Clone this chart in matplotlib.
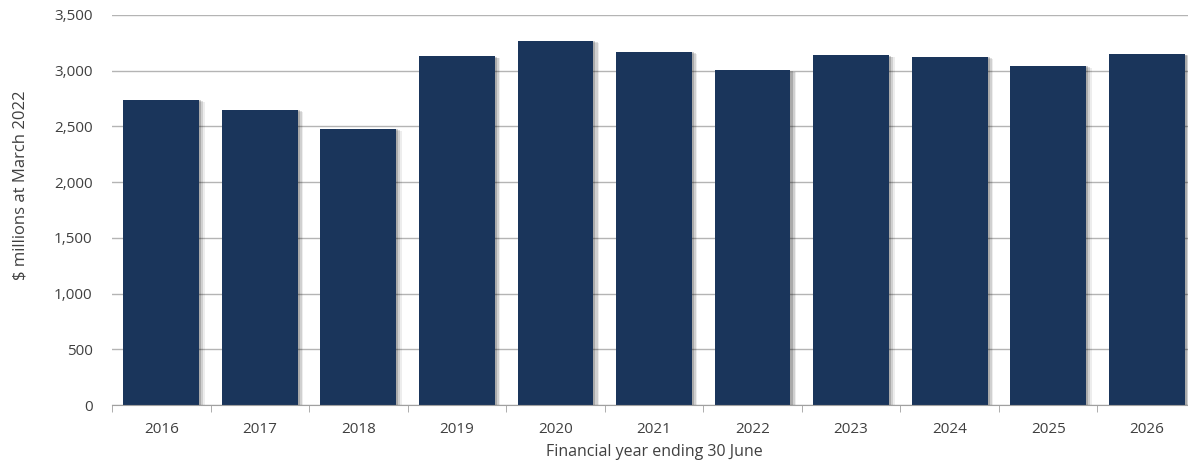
import matplotlib.pyplot as plt
import matplotlib.patheffects as pe
import numpy as np

### data ###
years = ["2016", "2017", "2018", "2019", "2020", "2021",
         "2022", "2023", "2024", "2025", "2026"]
values = [2740, 2650, 2480, 3130, 3270, 3170, 3005, 3140, 3125, 3045, 3150]

### styles ###
barcolour = "#1a355b"
gridcolour = "#b4b4b4"
textcolour = "#404040"

plt.rcParams['font.family'] = ['Open Sans', 'DejaVu Sans']

fig = plt.figure(figsize=(11.88, 4.65), dpi=100)
ax = fig.add_axes([112 / 1188, 60 / 465, 1084 / 1188, 390 / 465])

x = np.arange(len(years))
bars = ax.bar(x, values, width=0.77, color=barcolour, zorder=3)

# soft shadow on right/bottom of each bar
shadow = [
    pe.SimplePatchShadow(offset=(4.0, -1.5), shadow_rgbFace="#000000", alpha=0.07),
    pe.SimplePatchShadow(offset=(3.0, -1.0), shadow_rgbFace="#000000", alpha=0.12),
    pe.SimplePatchShadow(offset=(1.5, -0.5), shadow_rgbFace="#000000", alpha=0.18),
    pe.Normal(),
]
for b in bars:
    b.set_path_effects(shadow)

ax.set_xlim(-0.5, len(years) - 0.5)
ax.set_ylim(0, 3500)
ax.set_yticks(np.arange(0, 3501, 500))
ax.set_yticklabels([f"{v:,}" for v in range(0, 3501, 500)])
ax.set_xticks(x)
ax.set_xticklabels(years)
ax.set_xticks(np.arange(-0.5, len(years), 1), minor=True)

ax.yaxis.grid(True, color=gridcolour, linewidth=1.0, zorder=0)
ax.set_axisbelow(True)

for side in ["top", "right", "left"]:
    ax.spines[side].set_visible(False)
ax.spines["bottom"].set_color("#a0a0a0")
ax.spines["bottom"].set_zorder(4)

ax.tick_params(axis="x", which="major", length=0, pad=12, labelsize=11, labelcolor=textcolour)
ax.tick_params(axis="x", which="minor", length=5, color="#a0a0a0", direction="out")
ax.tick_params(axis="y", length=0, pad=14, labelsize=11, labelcolor=textcolour)

ax.set_xlabel("Financial year ending 30 June", fontsize=11.5, color=textcolour, labelpad=5)
ax.set_ylabel("$ millions at March 2022", fontsize=12, color=textcolour)
ax.yaxis.set_label_coords(-0.077, 0.564)

fig.savefig("out.png", dpi=100)
